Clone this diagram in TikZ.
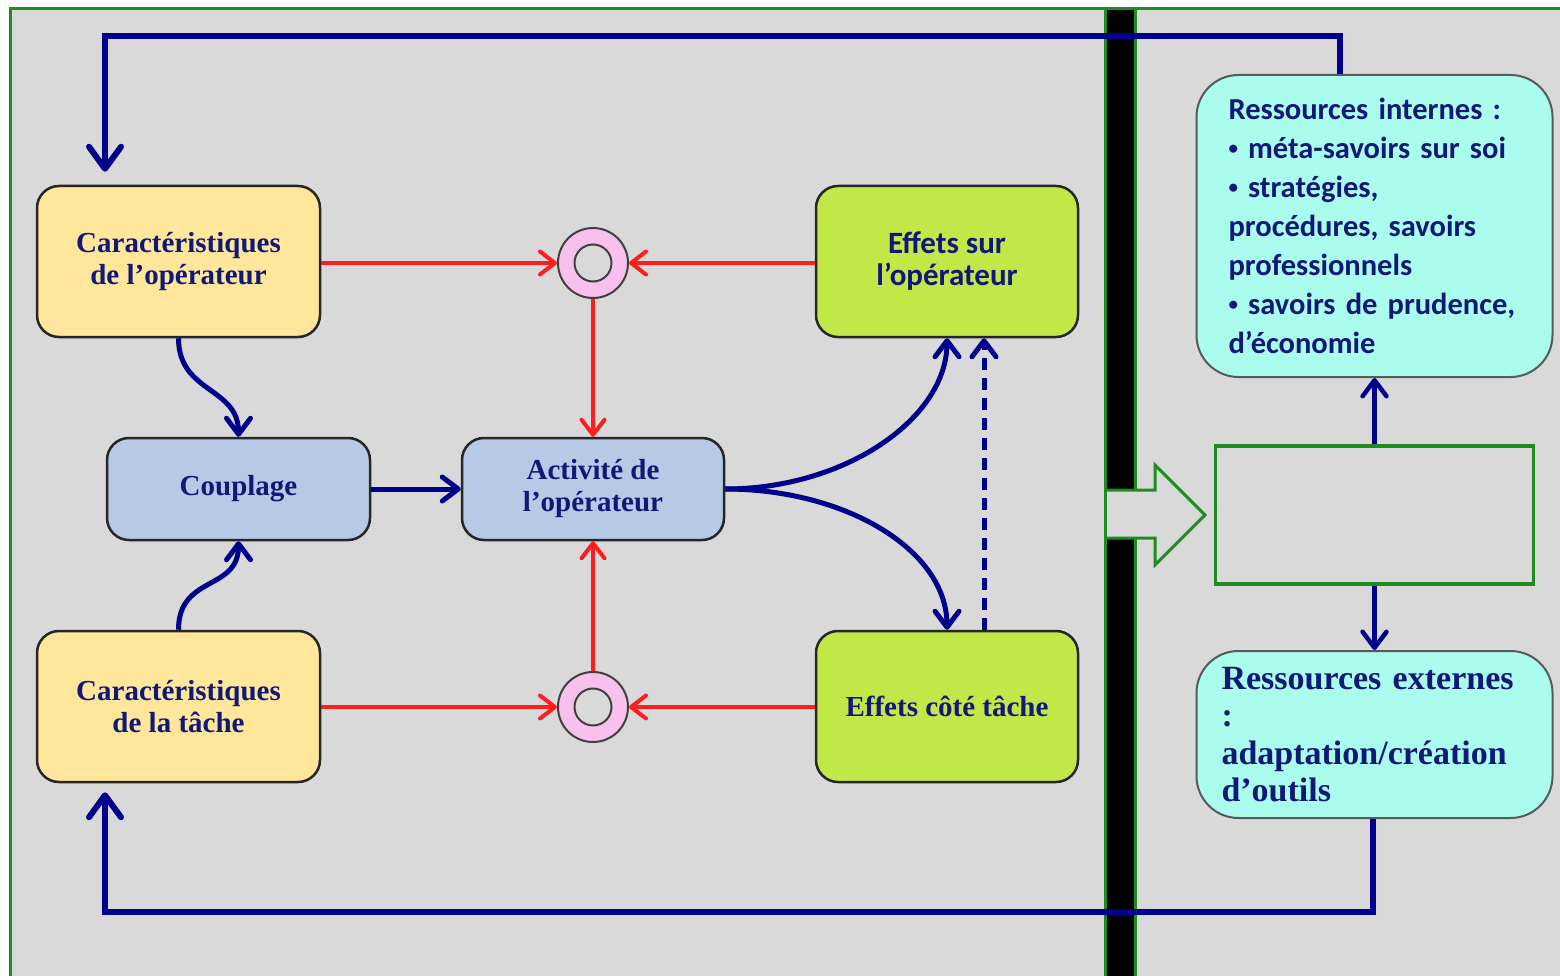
\documentclass[tikz,border=0pt]{standalone}
\usepackage{fontspec}
\setmainfont{Liberation Serif}
\newfontfamily\calfont{Carlito}
\usetikzlibrary{arrows.meta}

\definecolor{bg}{RGB}{217,217,217}
\definecolor{framegreen}{RGB}{30,140,30}
\definecolor{navy}{RGB}{0,0,140}
\definecolor{txt}{RGB}{16,24,120}
\definecolor{redline}{RGB}{255,30,30}
\definecolor{yel}{RGB}{255,230,155}
\definecolor{lblue}{RGB}{182,202,230}
\definecolor{lgreen}{RGB}{194,232,72}
\definecolor{cyanbox}{RGB}{170,252,236}
\definecolor{pinkc}{RGB}{248,192,236}

\newcommand{\smallbul}{\raisebox{0.12em}{\fontsize{19}{19}\selectfont•}}

\tikzset{
  box/.style={draw=black!85, line width=2.5pt, rounded corners=22pt, align=center,
    text=txt, inner sep=0pt},
  serifbox/.style={box, font=\bfseries\fontsize{29}{32}\selectfont},
  yelbox/.style={serifbox, fill=yel, minimum width=283pt, minimum height=151pt},
  bluebox/.style={serifbox, fill=lblue, minimum width=263pt, minimum height=102pt},
  greenbox/.style={box, fill=lgreen, minimum width=262pt, minimum height=151pt},
  resbox/.style={draw=black!65, line width=2pt, rounded corners=42pt, fill=cyanbox,
    text=txt, align=left, inner sep=0pt, minimum width=356pt},
  bluetip/.tip={Straight Barb[length=16pt,width=24pt,round]},
  bigtip/.tip={Straight Barb[length=22pt,width=32pt,round]},
  redtip/.tip={Straight Barb[length=15pt,width=23pt,round]},
  bluearrow/.style={draw=navy, line width=5pt, -bluetip},
  bigarrow/.style={draw=navy, line width=6pt, line join=miter, -bigtip},
  redarrow/.style={draw=redline, line width=4pt, -redtip},
  ringout/.style={circle, draw=black!75, line width=2pt, fill=pinkc, minimum size=70pt, inner sep=0pt},
  ringin/.style={circle, draw=black!75, line width=2pt, fill=bg, minimum size=37pt, inner sep=0pt},
}

\begin{document}
\begin{tikzpicture}[x=1pt,y=-1pt]
\useasboundingbox (0,0) rectangle (1560,976);
\fill[white] (0,0) rectangle (1560,976);
\fill[bg] (11,9) rectangle (1560,976);
\draw[framegreen, line width=3pt] (10.5,976) -- (10.5,8.5) -- (1560,8.5);

% separating bar
\fill[black] (1105,10) rectangle (1135,976);
\draw[framegreen, line width=3pt] (1105,10) -- (1105,976) (1135,10) -- (1135,976);

% boxes
\node[yelbox] (copA) at (178.5,261.5) {Caractéristiques\\de l’opérateur};
\node[yelbox] (tacA) at (178.5,706.5) {Caractéristiques\\de la tâche};
\node[bluebox] (coup) at (238.5,489) {Couplage};
\node[bluebox, minimum width=262pt] (act) at (593,489) {Activité de\\l’opérateur};
\node[greenbox, font=\calfont\bfseries\fontsize{31}{32}\selectfont] (effO) at (947,261.5) {Effets sur\\l’opérateur};
\node[greenbox, font=\bfseries\fontsize{29}{32}\selectfont] (effT) at (947,706.5) {Effets côté tâche};

\node[resbox, minimum height=302pt, text width=292pt,
      font=\calfont\bfseries\fontsize{30.5}{39}\selectfont] (rint) at (1374.5,226)
  {Ressources internes :\\
   \smallbul{} méta-savoirs sur soi\\
   \smallbul{} stratégies,\\
   procédures, savoirs\\
   professionnels\\
   \smallbul{} savoirs de prudence,\\
   d’économie};
\node[resbox, minimum height=167pt, text width=306pt,
      font=\bfseries\fontsize{34}{37.5}\selectfont] (rext) at (1374.5,734.5)
  {Ressources externes\\
   :\\
   adaptation/création\\
   d’outils};

% empty frame and hollow arrow
\node[draw=framegreen, line width=3.5pt, minimum width=318pt, minimum height=138pt, inner sep=0pt] (frm) at (1374.5,515) {};
\fill[bg] (1107,490) -- (1155,490) -- (1155,465) -- (1205,515) -- (1155,565) -- (1155,538) -- (1107,538) -- cycle;
\draw[framegreen, line width=3pt, line join=miter] (1107,490) -- (1155,490) -- (1155,465) -- (1205,515) -- (1155,565) -- (1155,538) -- (1107,538);

% junction rings
\node[ringout] (c1) at (593,263) {};
\node[ringin] (c1in) at (593,263) {};
\node[ringout] (c2) at (593,707) {};
\node[ringin] (c2in) at (593,707) {};

% red connectors
\draw[redarrow] (copA.east |- c1) -- (c1.west);
\draw[redarrow] (effO.west |- c1) -- (c1.east);
\draw[redarrow] (c1.south) -- (act.north);
\draw[redarrow] (tacA.east |- c2) -- (c2.west);
\draw[redarrow] (effT.west |- c2) -- (c2.east);
\draw[redarrow] (c2.north) -- (act.south);

% blue connectors
\draw[bluearrow] (coup.east) -- (act.west);
\draw[bluearrow] (copA.south) .. controls +(0,55) and +(0,-50) .. (coup.north);
\draw[bluearrow] (tacA.north) .. controls +(0,-55) and +(0,50) .. (coup.south);
\draw[bluearrow] (act.east) .. controls +(120,0) and +(0,80) .. (effO.south);
\draw[bluearrow] (act.east) .. controls +(120,0) and +(0,-80) .. (effT.north);
\draw[bluearrow, dash pattern=on 12pt off 8pt] ([xshift=37pt]effT.north) -- ([xshift=37pt]effO.south);
\draw[bluearrow, line width=4.5pt] (frm.north) -- (rint.south);
\draw[bluearrow, line width=4.5pt] (frm.south) -- (rext.north);

% feedback loops
\coordinate (t1) at (1340,36);
\coordinate (t2) at (105,36);
\coordinate (b1) at (1373,912);
\coordinate (b2) at (105,912);
\draw[bigarrow, shorten >=13pt] (rint.north -| t1) -- (t1) -- (t2) -- (copA.north -| t2);
\draw[bigarrow, shorten >=9pt] (rext.south -| b1) -- (b1) -- (b2) -- (tacA.south -| b2);
\end{tikzpicture}
\end{document}
